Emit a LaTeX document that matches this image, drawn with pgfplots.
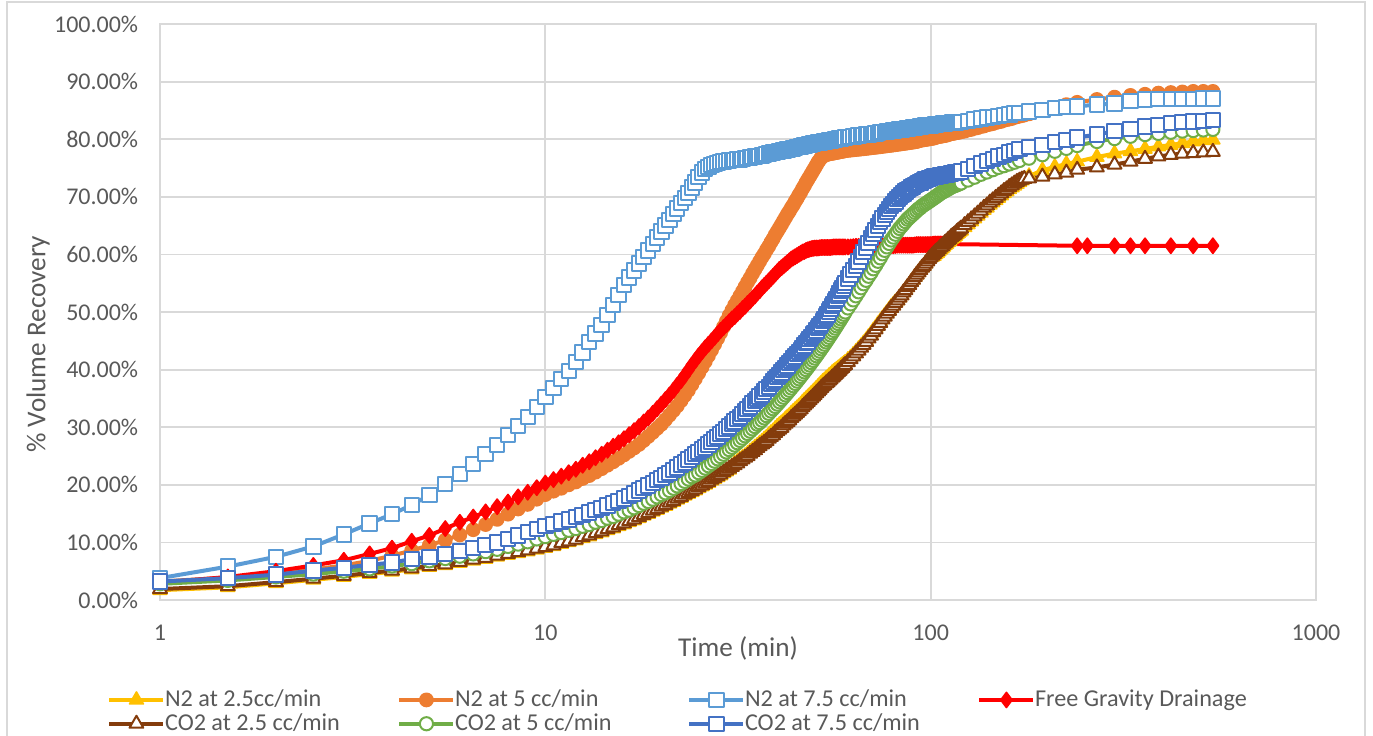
\documentclass[border=0pt]{standalone}
\usepackage{fontspec}
\setmainfont{Carlito}
\usepackage{pgfplots}
\usepackage{pgfplotstable}
\pgfplotsset{compat=1.18}
\definecolor{cYL}{HTML}{FFC000}
\definecolor{cOR}{HTML}{ED7D31}
\definecolor{cLB}{HTML}{5B9BD5}
\definecolor{cRD}{HTML}{FF0000}
\definecolor{cBR}{HTML}{843C0C}
\definecolor{cGR}{HTML}{70AD47}
\definecolor{cDB}{HTML}{4472C4}
\definecolor{txt}{HTML}{595959}
\definecolor{gridc}{HTML}{D9D9D9}
\newcommand\lent[1]{\makebox[114pt][l]{\hspace{-1.2pt}\rule[-2.7pt]{0pt}{11pt}#1}}

\pgfplotstableread{
t LB OR YL BR GR DB RD
1 3.8 3.2 1.7 1.9 2.8 3.2 3.0
1.5 5.8 3.9 2.2 2.4 3.4 3.8 4.0
2 7.5 4.6 2.9 3.1 4.0 4.4 5.0
2.5 9.3 5.3 3.5 3.7 4.5 5.1 6.0
3 11.4 6.0 4.0 4.2 5.0 5.6 6.9
3.5 13.3 6.8 4.5 4.7 5.4 6.1 8.0
4 14.9 7.7 4.9 5.1 5.9 6.5 9.0
4.5 16.5 8.6 5.3 5.5 6.3 7.1 10.2
5 18.2 9.5 5.7 5.9 6.8 7.5 11.2
5.5 20.1 10.4 6.0 6.2 7.2 8.0 12.4
6 21.9 11.3 6.4 6.6 7.6 8.5 13.5
6.5 23.6 12.2 6.8 7.0 8.0 9.0 14.4
7 25.3 13.1 7.1 7.3 8.4 9.5 15.3
7.5 26.9 14.0 7.5 7.7 8.8 10.0 16.2
8 28.6 14.9 7.8 8.0 9.3 10.6 17.0
8.5 30.2 15.8 8.1 8.3 9.7 11.2 17.9
9 31.8 16.6 8.4 8.6 10.1 11.8 18.7
9.5 33.5 17.5 8.7 8.9 10.6 12.3 19.5
10 35.2 18.3 9.0 9.2 11.0 12.8 20.3
10.5 36.8 18.9 9.3 9.5 11.4 13.2 20.9
11 38.4 19.4 9.7 9.9 11.7 13.6 21.5
11.5 39.8 20.0 10.0 10.2 12.1 14.0 22.1
12 41.3 20.5 10.3 10.5 12.4 14.4 22.7
12.5 43.0 21.1 10.7 10.9 12.8 14.8 23.4
13 44.8 21.6 11.0 11.2 13.1 15.2 24.0
13.5 46.3 22.2 11.4 11.6 13.5 15.6 24.7
14 47.7 22.8 11.7 11.9 13.8 16.0 25.3
14.5 49.5 23.4 12.1 12.3 14.2 16.4 26.0
15 51.2 24.0 12.4 12.6 14.5 16.8 26.7
15.5 53.0 24.6 12.8 13.0 14.9 17.2 27.3
16 54.7 25.2 13.1 13.3 15.3 17.6 28.0
16.5 56.0 25.8 13.5 13.7 15.6 18.1 28.7
17 57.2 26.4 13.8 14.0 16.0 18.5 29.4
17.5 58.4 27.0 14.2 14.4 16.4 19.0 30.1
18 59.6 27.7 14.6 14.8 16.8 19.4 30.9
18.5 60.7 28.4 14.9 15.1 17.1 19.9 31.6
19 61.8 29.1 15.3 15.5 17.5 20.3 32.4
19.5 62.9 29.8 15.6 15.8 17.9 20.8 33.2
20 64.0 30.5 16.0 16.2 18.3 21.2 34.0
20.5 65.0 31.3 16.3 16.5 18.6 21.7 34.8
21 66.0 32.1 16.7 16.9 19.0 22.1 35.6
21.5 67.0 32.9 17.0 17.2 19.4 22.6 36.4
22 68.0 33.7 17.4 17.6 19.8 23.0 37.3
22.5 68.9 34.6 17.7 17.9 20.2 23.5 38.1
23 69.8 35.5 18.1 18.3 20.6 23.9 39.0
23.5 70.7 36.4 18.4 18.6 21.0 24.4 39.9
24 71.6 37.4 18.7 18.9 21.4 24.8 40.8
24.5 72.5 38.4 19.0 19.2 21.7 25.3 41.6
25 73.4 39.4 19.4 19.6 22.1 25.7 42.4
25.5 74.2 40.4 19.7 19.9 22.5 26.1 43.1
26 74.8 41.4 20.0 20.2 22.9 26.5 43.8
26.5 75.2 42.4 20.3 20.5 23.3 27.0 44.4
27 75.5 43.4 20.7 20.9 23.7 27.4 45.0
27.5 75.7 44.4 21.0 21.2 24.1 27.9 45.6
28 75.9 45.4 21.3 21.5 24.5 28.3 46.2
28.5 76.0 46.4 21.6 21.8 24.9 28.8 46.8
29 76.1 47.4 22.0 22.2 25.3 29.2 47.3
29.5 76.2 48.4 22.3 22.5 25.7 29.7 47.8
30 76.3 49.4 22.6 22.8 26.1 30.1 48.3
30.5 76.35 50.3 23.2 23.1 26.5 30.6 48.8
31 76.4 51.2 23.7 23.4 26.9 31.0 49.2
31.5 76.45 52.0 24.0 23.7 27.3 31.4 49.7
32 76.5 52.8 24.4 24.1 27.7 31.8 50.1
32.5 76.6 53.6 24.7 24.4 28.1 32.3 50.6
33 76.7 54.4 25.0 24.7 28.5 32.7 51.0
33.5 76.75 55.2 25.4 25.0 28.9 33.2 51.5
34 76.8 55.9 25.8 25.4 29.3 33.6 51.9
34.5 76.9 56.7 26.1 25.7 29.7 34.1 52.4
35 77.0 57.4 26.5 26.0 30.1 34.5 52.8
35.5 77.05 58.1 26.8 26.4 30.5 34.9 53.3
36 77.1 58.8 27.2 26.7 30.8 35.3 53.7
36.5 77.2 59.5 27.5 27.0 31.2 35.7 54.2
37 77.3 60.1 27.9 27.3 31.6 36.2 54.6
37.5 77.4 60.8 28.2 27.6 32.0 36.6 55.0
38 77.5 61.4 28.6 28.0 32.4 37.0 55.4
38.5 77.6 62.1 29.0 28.3 32.8 37.5 55.8
39 77.7 62.7 29.3 28.6 33.2 37.9 56.2
39.5 77.75 63.4 29.7 29.0 33.6 38.3 56.6
40 77.8 64.0 30.1 29.3 34.0 38.7 57.0
40.5 77.9 64.6 30.4 29.6 34.4 39.1 57.4
41 78.0 65.2 30.7 29.9 34.8 39.5 57.7
41.5 78.05 65.8 31.0 30.3 35.2 39.9 58.0
42 78.1 66.4 31.4 30.6 35.6 40.3 58.3
42.5 78.2 67.0 31.7 30.9 36.0 40.7 58.6
43 78.3 67.5 32.0 31.2 36.4 41.1 58.9
43.5 78.35 68.1 32.4 31.6 36.8 41.5 59.2
44 78.4 68.6 32.7 31.9 37.2 41.9 59.4
44.5 78.5 69.2 33.0 32.2 37.6 42.3 59.6
45 78.6 69.7 33.3 32.5 38.0 42.7 59.8
45.5 78.65 70.3 33.6 32.8 38.4 43.1 60.0
46 78.7 70.8 33.9 33.1 38.8 43.4 60.2
46.5 78.8 71.4 34.3 33.5 39.2 43.8 60.4
47 78.9 71.9 34.6 33.8 39.6 44.2 60.5
47.5 78.95 72.5 34.9 34.1 40.0 44.6 60.7
48 79.0 73.0 35.2 34.4 40.4 44.9 60.8
48.5 79.1 73.5 35.5 34.7 40.8 45.3 60.9
49 79.2 74.0 35.8 35.0 41.2 45.7 61.0
49.5 79.25 74.5 36.1 35.3 41.6 46.1 61.05
50 79.3 75.0 36.4 35.6 42.0 46.4 61.1
50.5 79.35 75.5 36.7 35.9 42.4 46.8 61.1
51 79.4 76.0 37.0 36.2 42.8 47.2 61.1
51.5 79.45 76.4 37.3 36.5 43.2 47.6 61.15
52 79.5 76.8 37.6 36.8 43.6 47.9 61.2
52.5 79.55 77.0 37.9 37.1 44.0 48.4 61.2
53 79.6 77.2 38.1 37.3 44.4 48.8 61.2
53.5 79.65 77.3 38.4 37.6 44.8 49.2 61.2
54 79.7 77.4 38.6 37.8 45.2 49.6 61.2
54.5 79.75 77.45 38.9 38.1 45.6 50.1 61.2
55 79.8 77.5 39.1 38.3 46.0 50.5 61.2
55.5 79.85 77.55 39.4 38.6 46.4 51.0 61.25
56 79.9 77.6 39.6 38.8 46.8 51.4 61.3
56.5 79.95 77.65 39.8 39.1 47.2 51.9 61.3
57 80.0 77.7 40.0 39.3 47.6 52.3 61.3
57.5 80.05 77.75 40.2 39.6 48.0 52.8 61.3
58 80.1 77.8 40.4 39.8 48.4 53.2 61.3
58.5 80.15 77.85 40.6 40.1 48.8 53.7 61.3
59 80.2 77.9 40.8 40.3 49.2 54.1 61.3
59.5 80.25 77.95 41.0 40.6 49.6 54.6 61.3
60 80.3 78.0 41.2 40.8 50.0 55.0 61.3
61 80.35 78.05 41.7 41.3 50.7 55.8 61.3
62 80.4 78.1 42.1 41.8 51.4 56.5 61.3
63 80.5 78.15 42.6 42.3 52.1 57.3 61.35
64 80.6 78.2 43.1 42.8 52.8 58.0 61.4
65 80.65 78.25 43.6 43.3 53.5 58.8 61.4
66 80.7 78.3 44.1 43.8 54.2 59.6 61.4
67 80.75 78.35 44.6 44.3 54.9 60.4 61.4
68 80.8 78.4 45.1 44.8 55.5 61.2 61.4
69 80.85 78.45 45.7 45.4 56.2 62.0 61.4
70 80.9 78.5 46.2 45.9 56.8 62.8 61.4
71 80.95 78.55 46.8 46.5 57.5 63.5 61.45
72 81.0 78.6 47.3 47.0 58.1 64.2 61.5
73 81.1 78.65 47.9 47.6 58.8 64.9 61.5
74 81.2 78.7 48.4 48.1 59.4 65.6 61.5
75 81.25 78.75 48.9 48.7 60.1 66.2 61.5
76 81.3 78.8 49.4 49.2 60.7 66.8 61.5
77 81.35 78.85 49.9 49.7 61.3 67.4 61.5
78 81.4 78.9 50.4 50.2 61.9 67.9 61.5
79 81.45 78.95 50.9 50.7 62.5 68.4 61.5
80 81.5 79.0 51.3 51.1 63.0 68.8 61.5
81 81.55 79.05 51.7 51.6 63.5 69.2 61.55
82 81.6 79.1 52.0 52.0 64.0 69.6 61.6
83 81.65 79.15 52.5 52.5 64.5 70.0 61.6
84 81.7 79.2 52.9 52.9 64.9 70.3 61.6
85 81.75 79.25 53.4 53.4 65.3 70.6 61.6
86 81.8 79.3 53.8 53.8 65.7 70.9 61.6
87 81.85 79.35 54.3 54.3 66.1 71.2 61.6
88 81.9 79.4 54.7 54.7 66.4 71.4 61.6
89 81.95 79.45 55.2 55.2 66.7 71.6 61.6
90 82.0 79.5 55.6 55.6 67.0 71.8 61.6
91 82.05 79.55 56.1 56.1 67.3 72.0 61.65
92 82.1 79.6 56.5 56.5 67.6 72.2 61.7
93 82.15 79.7 56.9 56.9 67.9 72.4 61.7
94 82.2 79.8 57.3 57.3 68.1 72.5 61.7
95 82.25 79.85 57.7 57.7 68.4 72.7 61.7
96 82.3 79.9 58.0 58.0 68.6 72.8 61.7
97 82.35 79.95 58.4 58.4 68.8 73.0 61.7
98 82.4 80.0 58.8 58.8 69.0 73.1 61.7
99 82.4 80.05 59.2 59.2 69.2 73.2 61.7
100 82.4 80.1 59.5 59.5 69.4 73.3 61.7
101 82.45 80.15 59.6 59.8 69.6 73.4 61.75
102 82.5 80.2 59.7 60.1 69.8 73.5 61.8
103 82.55 80.3 60.0 60.4 70.0 73.55 61.8
104 82.6 80.4 60.2 60.6 70.2 73.6 61.8
105 82.6 80.45 60.5 60.9 70.4 73.65 61.8
106 82.6 80.5 60.8 61.2 70.6 73.7 61.8
107 82.65 80.55 61.0 61.4 70.8 73.75 61.8
108 82.7 80.6 61.3 61.7 70.9 73.8 61.8
109 82.75 80.65 61.6 62.0 71.1 73.85 nan
110 82.8 80.7 61.8 62.2 71.2 73.9 nan
111 82.8 80.8 62.1 62.5 71.4 73.95 nan
112 82.8 80.9 62.3 62.7 71.5 74.0 nan
113 82.85 80.95 62.6 63.0 71.7 74.05 nan
114 82.9 81.0 62.8 63.2 71.8 74.1 nan
115 82.9 81.05 63.0 63.4 71.9 74.15 nan
116 82.9 81.1 63.2 63.6 72.0 74.2 nan
117 82.95 81.15 63.5 63.9 72.1 74.25 nan
118 83.0 81.2 63.7 64.1 72.2 74.3 nan
119 83.0 81.25 63.9 64.3 72.3 74.35 nan
120 83.0 81.3 64.1 64.5 72.4 74.4 nan
122.5 nan 81.4 64.7 65.1 nan nan nan
125 83.2 81.6 65.2 65.6 72.9 74.8 nan
127.5 nan 81.7 65.7 66.1 nan nan nan
130 83.4 81.9 66.2 66.6 73.4 75.3 nan
132.5 nan 82.0 66.7 67.1 nan nan nan
135 83.6 82.2 67.2 67.6 73.9 75.8 nan
137.5 nan 82.3 67.7 68.1 nan nan nan
140 83.8 82.5 68.1 68.5 74.3 76.2 nan
142.5 nan 82.6 68.6 69.0 nan nan nan
145 83.9 82.7 69.0 69.4 74.7 76.6 nan
147.5 nan 82.9 69.4 69.8 nan nan nan
150 84.0 83.0 69.8 70.2 75.1 77.0 nan
152.5 nan 83.1 70.2 70.6 nan nan nan
155 84.2 83.3 70.6 71.0 75.4 77.3 nan
157.5 nan 83.4 70.9 71.3 nan nan nan
160 84.3 83.5 71.3 71.7 75.7 77.7 nan
162.5 nan 83.6 71.6 72.0 nan nan nan
165 84.5 83.8 71.9 72.3 76.0 78.0 nan
167.5 nan 83.9 72.2 72.6 nan nan nan
170 84.6 84.0 72.5 72.8 76.3 78.3 nan
172.5 nan 84.1 72.8 73.0 nan nan nan
175 nan 84.2 73.1 73.1 nan nan nan
180 84.8 84.4 73.6 73.2 76.7 78.6 nan
195 85.1 85.0 74.6 73.5 77.3 79.0 nan
210 85.4 85.5 75.2 73.9 77.9 79.5 nan
225 85.6 86.0 75.7 74.2 78.4 79.9 nan
240 85.7 86.4 76.1 74.7 78.9 80.3 61.5
255 nan nan nan nan nan nan 61.5
270 86.0 86.9 76.9 75.1 79.6 80.8 nan
300 86.2 87.3 77.5 75.6 80.1 81.4 61.5
330 86.6 87.6 77.9 76.1 80.5 81.8 61.5
360 86.9 87.8 78.3 76.6 80.8 82.2 61.5
390 87.0 88.0 78.7 77.0 81.0 82.5 nan
420 87.0 88.1 79.0 77.3 81.2 82.8 61.5
450 87.0 88.2 79.3 77.5 81.4 83.0 nan
480 87.0 88.3 79.6 77.6 81.5 83.1 61.5
510 87.1 88.3 79.8 77.7 81.6 83.2 nan
540 87.1 88.3 79.9 77.8 81.7 83.3 61.5
}\data

\begin{document}
\begin{tikzpicture}
\path[use as bounding box] (-80pt,-67.5pt) rectangle (606.5pt,300pt);
\begin{axis}[
  at={(0pt,0pt)}, anchor=south west,
  scale only axis, width=578pt, height=288pt,
  xmode=log, xmin=1, xmax=1000, ymin=0, ymax=100,
  xtick={1,10,100,1000}, xticklabels={1,10,100,1000},
  ytick={0,10,...,100},
  yticklabel={\pgfmathprintnumber[fixed,fixed zerofill,precision=2]{\tick}\%},
  /pgf/number format/assume math mode=true,
  grid=major,
  major grid style={draw=gridc, line width=0.9pt},
  axis line style={draw=gridc, line width=0.9pt},
  major tick length=0pt, minor tick length=0pt,
  tick label style={font=\fontsize{12}{14}\selectfont, text=txt},
  yticklabel style={xshift=-7.4pt},
  xticklabel style={yshift=-8.9pt},
  xlabel={Time (min)}, ylabel={\% Volume Recovery},
  label style={font=\fontsize{13.6}{16}\selectfont, text=txt},
  xlabel style={at={(axis description cs:0.5,-0.0833)}, anchor=center},
  ylabel style={at={(axis description cs:-0.1055,0.444)}, anchor=center},
  clip=false,
  legend columns=4,
  legend cell align=left,
  legend style={draw=none, fill=none, at={(axis description cs:-0.0510,-0.1452)}, anchor=north west,
    font=\fontsize{12.1}{14}\selectfont, text=txt, nodes={inner sep=1pt}},
  legend image code/.code={\draw[mark repeat=2,mark phase=2,#1] plot coordinates {(0pt,0pt) (13.5pt,0pt) (27pt,0pt)};},
  every axis plot/.append style={line width=2pt, line join=round},
]
\addplot[color=cYL, mark=triangle*, mark size=4pt, mark options={solid, line width=0.8pt, fill=cYL}] table[x=t,y=YL]{\data};
\addlegendentry{\lent{N2 at 2.5cc/min}}
\addplot[color=cOR, mark=*, mark size=3.3pt, mark options={solid, line width=0.8pt, fill=cOR}] table[x=t,y=OR]{\data};
\addlegendentry{\lent{N2 at 5 cc/min}}
\addplot[color=cLB, mark=square*, mark size=3.6pt, mark options={solid, line width=1pt, fill=white}] table[x=t,y=LB]{\data};
\addlegendentry{\lent{N2 at 7.5 cc/min}}
\addplot[color=cRD, mark=diamond*, mark size=3.8pt, mark options={solid, line width=0.8pt, fill=cRD}] table[x=t,y=RD]{\data};
\addlegendentry{\lent{Free Gravity Drainage}}
\addplot[color=cBR, mark=triangle*, mark size=4pt, mark options={solid, line width=1pt, fill=white}] table[x=t,y=BR]{\data};
\addlegendentry{\lent{CO2 at 2.5 cc/min}}
\addplot[color=cGR, mark=*, mark size=3.3pt, mark options={solid, line width=1pt, fill=white}] table[x=t,y=GR]{\data};
\addlegendentry{\lent{CO2 at 5 cc/min}}
\addplot[color=cDB, mark=square*, mark size=3.6pt, mark options={solid, line width=1pt, fill=white}] table[x=t,y=DB]{\data};
\addlegendentry{\lent{CO2 at 7.5 cc/min}}
\end{axis}
\draw[color=gridc, line width=0.9pt] (-76.5pt,-90pt) rectangle (602.5pt,299pt);
\end{tikzpicture}
\end{document}
